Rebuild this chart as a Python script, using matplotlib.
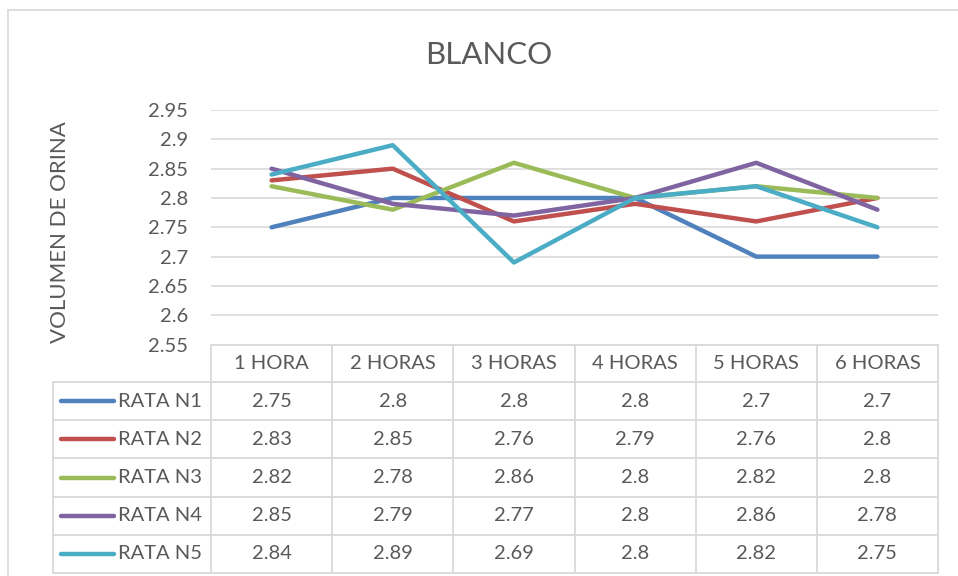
import matplotlib
matplotlib.use("Agg")
import matplotlib.pyplot as plt
from matplotlib.lines import Line2D

plt.rcParams['font.family'] = ['Lato', 'DejaVu Sans']

title = "BLANCO"
ylabel = "VOLUMEN DE ORINA"
categories = ["1 HORA", "2 HORAS", "3 HORAS", "4 HORAS", "5 HORAS", "6 HORAS"]
series_names = ["RATA N1", "RATA N2", "RATA N3", "RATA N4", "RATA N5"]
rata_n1 = [2.75, 2.8, 2.8, 2.8, 2.7, 2.7]
rata_n2 = [2.83, 2.85, 2.76, 2.79, 2.76, 2.8]
rata_n3 = [2.82, 2.78, 2.86, 2.8, 2.82, 2.8]
rata_n4 = [2.85, 2.79, 2.77, 2.8, 2.86, 2.78]
rata_n5 = [2.84, 2.89, 2.69, 2.8, 2.82, 2.75]
series_values = [rata_n1, rata_n2, rata_n3, rata_n4, rata_n5]
colors = ["#4F81BD", "#C0504D", "#9BBB59", "#8064A2", "#4BACC6"]
yticks = [2.55, 2.6, 2.65, 2.7, 2.75, 2.8, 2.85, 2.9, 2.95]

W, H = 958, 576
fig = plt.figure(figsize=(W / 100, H / 100), dpi=100)

def fx(x):
    return x / W

def fy(y):
    return 1 - y / H

text_color = "#595959"
grid_color = "#D9D9D9"
fs = 14.5

# chart border
fig.add_artist(Line2D([fx(8), fx(8)], [fy(10), fy(580)], color="#D9D9D9", lw=1.2))
fig.add_artist(Line2D([fx(8), fx(960)], [fy(10), fy(10)], color="#D9D9D9", lw=1.2))

# plot area
left, right, top, bottom = 211, 938, 110, 344.6
ax = fig.add_axes([fx(left), fy(bottom), fx(right) - fx(left), (bottom - top) / H])
ax.set_xlim(-0.5, len(categories) - 0.5)
ax.set_ylim(2.55, 2.95)
ax.set_yticks(yticks)
ax.set_yticklabels([f"{t:g}" for t in yticks], fontsize=fs, color=text_color)
ax.set_xticks([])
for s in ax.spines.values():
    s.set_visible(False)
ax.tick_params(axis='y', length=0, pad=16.5)
ax.grid(axis='y', color=grid_color, lw=1.2)
ax.set_axisbelow(True)
x = list(range(len(categories)))
for vals, c in zip(series_values, colors):
    ax.plot(x, vals, color=c, lw=3.2, solid_capstyle='round', solid_joinstyle='round', clip_on=False)

fig.text(fx(489), fy(55), title, ha='center', va='center', fontsize=22.5, color=text_color)
fig.text(fx(60), fy(232), ylabel, ha='center', va='center', rotation=90, fontsize=16, color=text_color)

# data table
col_edges = [211 + i * (938 - 211) / 6 for i in range(7)]
header_top, header_bot = 345, 382
row_h = (573 - 382) / 5
row_edges = [header_bot + i * row_h for i in range(6)]
legend_left = 53
tlw = 1.3
# horizontal lines
fig.add_artist(Line2D([fx(col_edges[0]), fx(col_edges[-1])], [fy(header_top)] * 2, color=grid_color, lw=tlw))
for yy in row_edges:
    fig.add_artist(Line2D([fx(legend_left), fx(col_edges[-1])], [fy(yy)] * 2, color=grid_color, lw=tlw))
# vertical lines
for xx in col_edges:
    fig.add_artist(Line2D([fx(xx)] * 2, [fy(header_top), fy(row_edges[-1])], color=grid_color, lw=tlw))
fig.add_artist(Line2D([fx(legend_left)] * 2, [fy(header_bot), fy(row_edges[-1])], color=grid_color, lw=tlw))

for j, cat in enumerate(categories):
    cx = (col_edges[j] + col_edges[j + 1]) / 2
    fig.text(fx(cx), fy((header_top + header_bot) / 2), cat, ha='center', va='center', fontsize=fs, color=text_color)

for i, (name, vals, c) in enumerate(zip(series_names, series_values, colors)):
    cy = (row_edges[i] + row_edges[i + 1]) / 2
    fig.add_artist(Line2D([fx(61), fx(114)], [fy(cy)] * 2, color=c, lw=3.2, solid_capstyle='round'))
    fig.text(fx(118), fy(cy), name, ha='left', va='center', fontsize=fs, color=text_color)
    for j, v in enumerate(vals):
        cx = (col_edges[j] + col_edges[j + 1]) / 2
        fig.text(fx(cx), fy(cy), f"{v:g}", ha='center', va='center', fontsize=fs, color=text_color)

fig.savefig("out.png", dpi=100, facecolor="white")
